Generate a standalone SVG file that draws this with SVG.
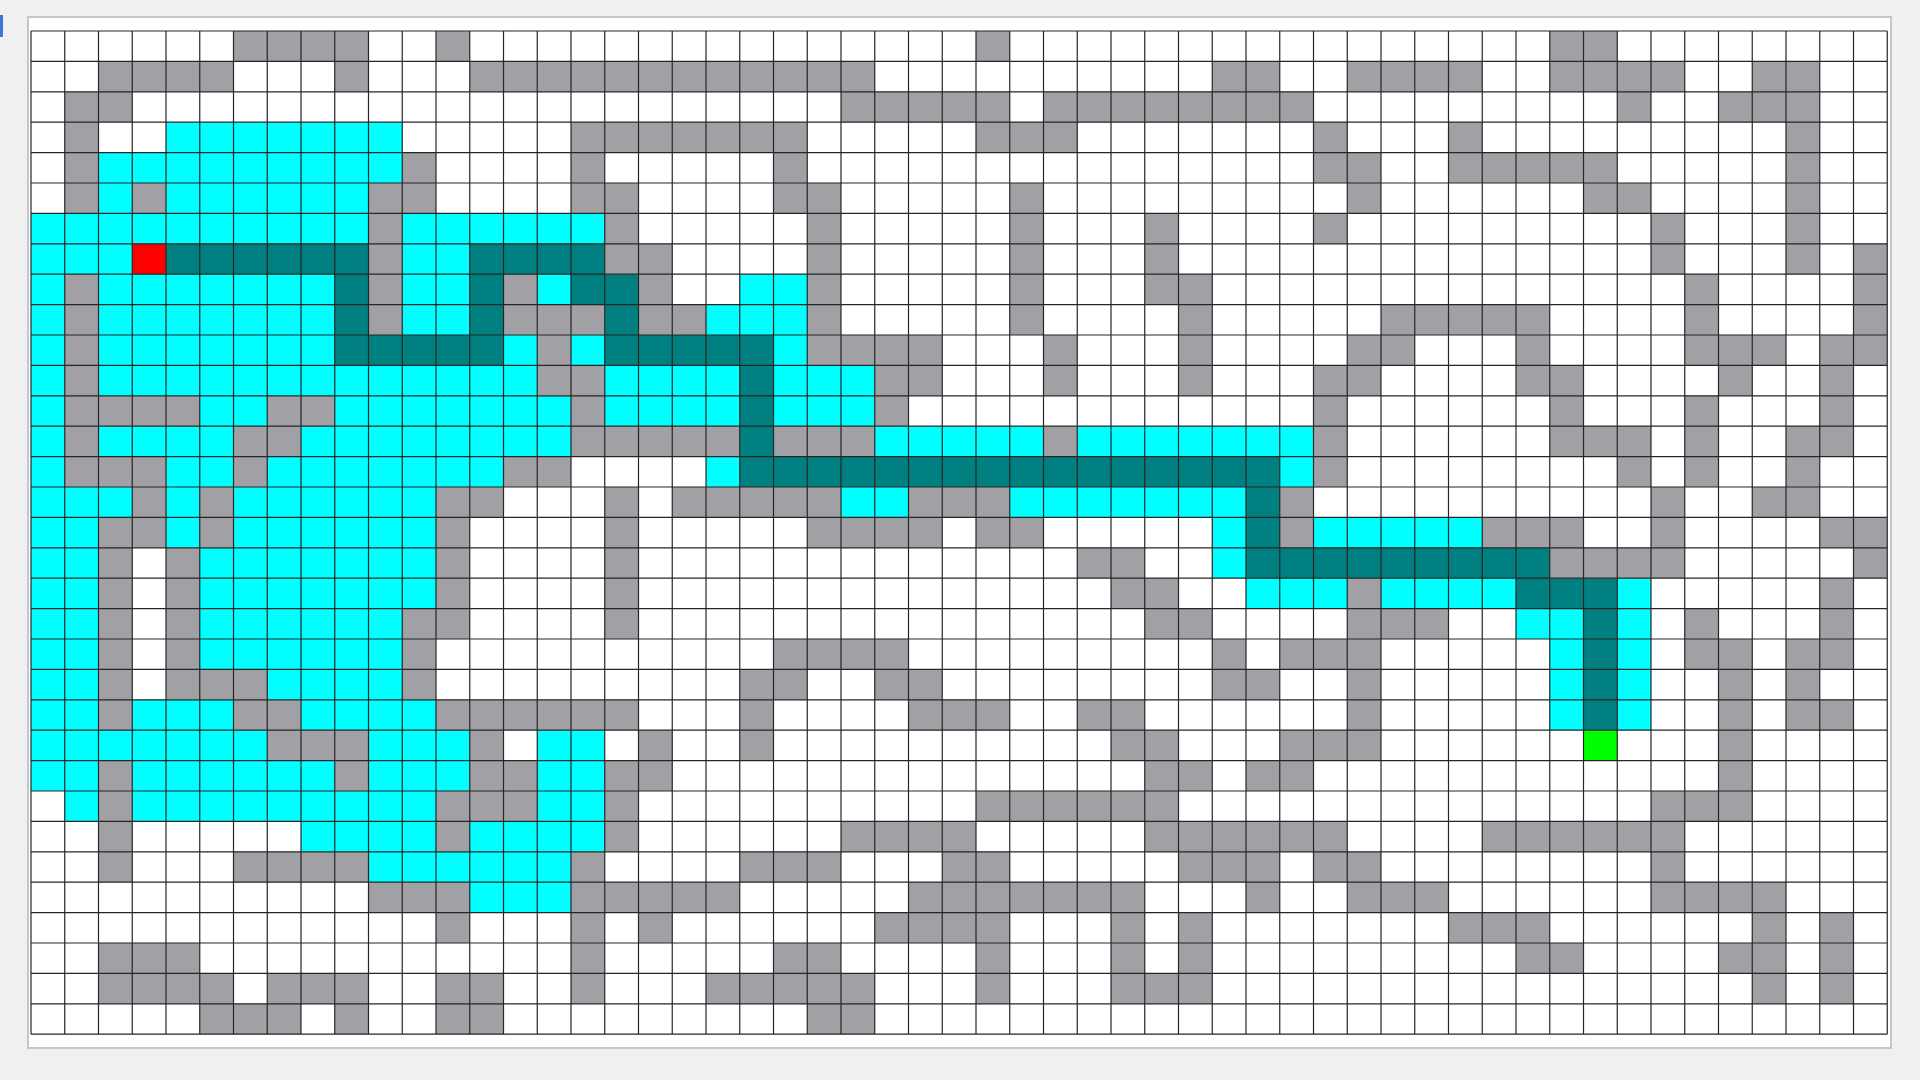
<svg xmlns="http://www.w3.org/2000/svg" width="1920" height="1080" viewBox="0 0 1920 1080">
<style>
.wall{fill:#a0a0a5}
.seen{fill:#00ffff}
.route{fill:#008080}
.start{fill:#ff0000}
.goal{fill:#00ff00}
.lines{fill:none;stroke:#262626;stroke-width:1.2}
</style>
<rect x="0" y="0" width="1920" height="1080" fill="#f0f0f0"/>
<rect x="0" y="15" width="3" height="22" fill="#3a78d8"/>
<rect x="28" y="17" width="1863" height="1031" fill="#ffffff" stroke="#c3c6ca" stroke-width="2"/>
<g id="maze" transform="translate(31 31) scale(33.75 30.4)">
<rect x="0" y="0" width="55" height="33" fill="#ffffff"/>
<path class="wall" d="M6 0h4v1h-4zM12 0h1v1h-1zM28 0h1v1h-1zM45 0h2v1h-2z
M2 1h4v1h-4zM9 1h1v1h-1zM13 1h12v1h-12zM35 1h2v1h-2zM39 1h4v1h-4zM45 1h4v1h-4zM51 1h2v1h-2z
M1 2h2v1h-2zM24 2h5v1h-5zM30 2h8v1h-8zM47 2h1v1h-1zM50 2h3v1h-3z
M1 3h1v1h-1zM16 3h7v1h-7zM28 3h3v1h-3zM38 3h1v1h-1zM42 3h1v1h-1zM52 3h1v1h-1z
M1 4h1v1h-1zM11 4h1v1h-1zM16 4h1v1h-1zM22 4h1v1h-1zM38 4h2v1h-2zM42 4h5v1h-5zM52 4h1v1h-1z
M1 5h1v1h-1zM3 5h1v1h-1zM10 5h2v1h-2zM16 5h2v1h-2zM22 5h2v1h-2zM29 5h1v1h-1zM39 5h1v1h-1zM46 5h2v1h-2zM52 5h1v1h-1z
M10 6h1v1h-1zM17 6h1v1h-1zM23 6h1v1h-1zM29 6h1v1h-1zM33 6h1v1h-1zM38 6h1v1h-1zM48 6h1v1h-1zM52 6h1v1h-1z
M10 7h1v1h-1zM17 7h2v1h-2zM23 7h1v1h-1zM29 7h1v1h-1zM33 7h1v1h-1zM48 7h1v1h-1zM52 7h1v1h-1zM54 7h1v1h-1z
M1 8h1v1h-1zM10 8h1v1h-1zM14 8h1v1h-1zM18 8h1v1h-1zM23 8h1v1h-1zM29 8h1v1h-1zM33 8h2v1h-2zM49 8h1v1h-1zM54 8h1v1h-1z
M1 9h1v1h-1zM10 9h1v1h-1zM14 9h3v1h-3zM18 9h2v1h-2zM23 9h1v1h-1zM29 9h1v1h-1zM34 9h1v1h-1zM40 9h5v1h-5zM49 9h1v1h-1zM54 9h1v1h-1z
M1 10h1v1h-1zM15 10h1v1h-1zM23 10h4v1h-4zM30 10h1v1h-1zM34 10h1v1h-1zM39 10h2v1h-2zM44 10h1v1h-1zM49 10h3v1h-3zM53 10h2v1h-2z
M1 11h1v1h-1zM15 11h2v1h-2zM25 11h2v1h-2zM30 11h1v1h-1zM34 11h1v1h-1zM38 11h2v1h-2zM44 11h2v1h-2zM50 11h1v1h-1zM53 11h1v1h-1z
M1 12h4v1h-4zM7 12h2v1h-2zM16 12h1v1h-1zM25 12h1v1h-1zM38 12h1v1h-1zM45 12h1v1h-1zM49 12h1v1h-1zM53 12h1v1h-1z
M1 13h1v1h-1zM6 13h2v1h-2zM16 13h5v1h-5zM22 13h3v1h-3zM30 13h1v1h-1zM38 13h1v1h-1zM45 13h3v1h-3zM49 13h1v1h-1zM52 13h2v1h-2z
M1 14h3v1h-3zM6 14h1v1h-1zM14 14h2v1h-2zM38 14h1v1h-1zM47 14h1v1h-1zM49 14h1v1h-1zM52 14h1v1h-1z
M3 15h1v1h-1zM5 15h1v1h-1zM12 15h2v1h-2zM17 15h1v1h-1zM19 15h5v1h-5zM26 15h3v1h-3zM37 15h1v1h-1zM48 15h1v1h-1zM51 15h2v1h-2z
M2 16h2v1h-2zM5 16h1v1h-1zM12 16h1v1h-1zM17 16h1v1h-1zM23 16h4v1h-4zM28 16h2v1h-2zM37 16h1v1h-1zM43 16h3v1h-3zM48 16h1v1h-1zM53 16h2v1h-2z
M2 17h1v1h-1zM4 17h1v1h-1zM12 17h1v1h-1zM17 17h1v1h-1zM31 17h2v1h-2zM45 17h4v1h-4zM54 17h1v1h-1z
M2 18h1v1h-1zM4 18h1v1h-1zM12 18h1v1h-1zM17 18h1v1h-1zM32 18h2v1h-2zM39 18h1v1h-1zM53 18h1v1h-1z
M2 19h1v1h-1zM4 19h1v1h-1zM11 19h2v1h-2zM17 19h1v1h-1zM33 19h2v1h-2zM39 19h3v1h-3zM49 19h1v1h-1zM53 19h1v1h-1z
M2 20h1v1h-1zM4 20h1v1h-1zM11 20h1v1h-1zM22 20h4v1h-4zM35 20h1v1h-1zM37 20h3v1h-3zM49 20h2v1h-2zM52 20h2v1h-2z
M2 21h1v1h-1zM4 21h3v1h-3zM11 21h1v1h-1zM21 21h2v1h-2zM25 21h2v1h-2zM35 21h2v1h-2zM39 21h1v1h-1zM50 21h1v1h-1zM52 21h1v1h-1z
M2 22h1v1h-1zM6 22h2v1h-2zM12 22h6v1h-6zM21 22h1v1h-1zM26 22h3v1h-3zM31 22h2v1h-2zM39 22h1v1h-1zM50 22h1v1h-1zM52 22h2v1h-2z
M7 23h3v1h-3zM13 23h1v1h-1zM18 23h1v1h-1zM21 23h1v1h-1zM32 23h2v1h-2zM37 23h3v1h-3zM50 23h1v1h-1z
M2 24h1v1h-1zM9 24h1v1h-1zM13 24h2v1h-2zM17 24h2v1h-2zM33 24h2v1h-2zM36 24h2v1h-2zM50 24h1v1h-1z
M2 25h1v1h-1zM12 25h3v1h-3zM17 25h1v1h-1zM28 25h6v1h-6zM48 25h3v1h-3z
M2 26h1v1h-1zM12 26h1v1h-1zM17 26h1v1h-1zM24 26h4v1h-4zM33 26h6v1h-6zM43 26h6v1h-6z
M2 27h1v1h-1zM6 27h4v1h-4zM16 27h1v1h-1zM21 27h3v1h-3zM27 27h2v1h-2zM34 27h3v1h-3zM38 27h2v1h-2zM48 27h1v1h-1z
M10 28h3v1h-3zM16 28h5v1h-5zM26 28h7v1h-7zM36 28h1v1h-1zM39 28h3v1h-3zM48 28h4v1h-4z
M12 29h1v1h-1zM16 29h1v1h-1zM18 29h1v1h-1zM25 29h4v1h-4zM32 29h1v1h-1zM34 29h1v1h-1zM42 29h3v1h-3zM51 29h1v1h-1zM53 29h1v1h-1z
M2 30h3v1h-3zM16 30h1v1h-1zM22 30h2v1h-2zM28 30h1v1h-1zM32 30h1v1h-1zM34 30h1v1h-1zM44 30h2v1h-2zM50 30h2v1h-2zM53 30h1v1h-1z
M2 31h4v1h-4zM7 31h3v1h-3zM12 31h2v1h-2zM16 31h1v1h-1zM20 31h5v1h-5zM28 31h1v1h-1zM32 31h3v1h-3zM51 31h1v1h-1zM53 31h1v1h-1z
M5 32h3v1h-3zM9 32h1v1h-1zM12 32h2v1h-2zM23 32h2v1h-2z"/>
<path class="seen" d="M4 3h7v1h-7z
M2 4h9v1h-9z
M2 5h1v1h-1zM4 5h6v1h-6z
M0 6h10v1h-10zM11 6h6v1h-6z
M0 7h3v1h-3zM11 7h2v1h-2z
M0 8h1v1h-1zM2 8h7v1h-7zM11 8h2v1h-2zM15 8h1v1h-1zM21 8h2v1h-2z
M0 9h1v1h-1zM2 9h7v1h-7zM11 9h2v1h-2zM20 9h3v1h-3z
M0 10h1v1h-1zM2 10h7v1h-7zM14 10h1v1h-1zM16 10h1v1h-1zM22 10h1v1h-1z
M0 11h1v1h-1zM2 11h13v1h-13zM17 11h4v1h-4zM22 11h3v1h-3z
M0 12h1v1h-1zM5 12h2v1h-2zM9 12h7v1h-7zM17 12h4v1h-4zM22 12h3v1h-3z
M0 13h1v1h-1zM2 13h4v1h-4zM8 13h8v1h-8zM25 13h5v1h-5zM31 13h7v1h-7z
M0 14h1v1h-1zM4 14h2v1h-2zM7 14h7v1h-7zM20 14h1v1h-1zM37 14h1v1h-1z
M0 15h3v1h-3zM4 15h1v1h-1zM6 15h6v1h-6zM24 15h2v1h-2zM29 15h7v1h-7z
M0 16h2v1h-2zM4 16h1v1h-1zM6 16h6v1h-6zM35 16h1v1h-1zM38 16h5v1h-5z
M0 17h2v1h-2zM5 17h7v1h-7zM35 17h1v1h-1z
M0 18h2v1h-2zM5 18h7v1h-7zM36 18h3v1h-3zM40 18h4v1h-4zM47 18h1v1h-1z
M0 19h2v1h-2zM5 19h6v1h-6zM44 19h2v1h-2zM47 19h1v1h-1z
M0 20h2v1h-2zM5 20h6v1h-6zM45 20h1v1h-1zM47 20h1v1h-1z
M0 21h2v1h-2zM7 21h4v1h-4zM45 21h1v1h-1zM47 21h1v1h-1z
M0 22h2v1h-2zM3 22h3v1h-3zM8 22h4v1h-4zM45 22h1v1h-1zM47 22h1v1h-1z
M0 23h7v1h-7zM10 23h3v1h-3zM15 23h2v1h-2z
M0 24h2v1h-2zM3 24h6v1h-6zM10 24h3v1h-3zM15 24h2v1h-2z
M1 25h1v1h-1zM3 25h9v1h-9zM15 25h2v1h-2z
M8 26h4v1h-4zM13 26h4v1h-4z
M10 27h6v1h-6z
M13 28h3v1h-3z"/>
<path class="route" d="M4 7h6v1h-6zM13 7h4v1h-4z
M9 8h1v1h-1zM13 8h1v1h-1zM16 8h2v1h-2z
M9 9h1v1h-1zM13 9h1v1h-1zM17 9h1v1h-1z
M9 10h5v1h-5zM17 10h5v1h-5z
M21 11h1v3h-1z
M21 14h16v1h-16z
M36 15h1v2h-1z
M36 17h9v1h-9z
M44 18h3v1h-3z
M46 19h1v4h-1z"/>
<rect class="start" x="3" y="7" width="1" height="1"/>
<rect class="goal" x="46" y="23" width="1" height="1"/>
<path class="lines" vector-effect="non-scaling-stroke" d="M0 0V33M1 0V33M2 0V33M3 0V33M4 0V33M5 0V33M6 0V33M7 0V33M8 0V33M9 0V33M10 0V33M11 0V33M12 0V33M13 0V33M14 0V33M15 0V33M16 0V33M17 0V33M18 0V33M19 0V33M20 0V33M21 0V33M22 0V33M23 0V33M24 0V33M25 0V33M26 0V33M27 0V33M28 0V33M29 0V33M30 0V33M31 0V33M32 0V33M33 0V33M34 0V33M35 0V33M36 0V33M37 0V33M38 0V33M39 0V33M40 0V33M41 0V33M42 0V33M43 0V33M44 0V33M45 0V33M46 0V33M47 0V33M48 0V33M49 0V33M50 0V33M51 0V33M52 0V33M53 0V33M54 0V33M55 0V33
M0 0H55M0 1H55M0 2H55M0 3H55M0 4H55M0 5H55M0 6H55M0 7H55M0 8H55M0 9H55M0 10H55M0 11H55M0 12H55M0 13H55M0 14H55M0 15H55M0 16H55M0 17H55M0 18H55M0 19H55M0 20H55M0 21H55M0 22H55M0 23H55M0 24H55M0 25H55M0 26H55M0 27H55M0 28H55M0 29H55M0 30H55M0 31H55M0 32H55M0 33H55"/>
</g>
</svg>
